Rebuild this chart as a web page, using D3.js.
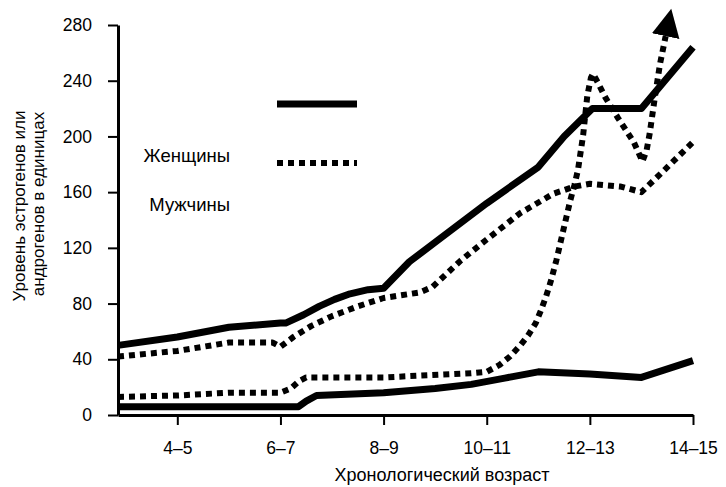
<!DOCTYPE html>
<meta charset="utf-8">
<script src="https://d3js.org/d3.v7.min.js"></script>
<title>Уровень эстрогенов и андрогенов</title>
<style>
  body { margin: 0; background: white; }
  svg text { font-family: "Liberation Sans", Arial, sans-serif; fill: black; }
</style>
<body>
<div id="chart"></div>
<script>
// x values are ages; tick at the middle of each two-year group
var ageTicks = [4.5, 6.5, 8.5, 10.5, 12.5, 14.5];
var ageLabels = ["4–5", "6–7", "8–9", "10–11", "12–13", "14–15"];
var yTicks = [0, 40, 80, 120, 160, 200, 240, 280];

// Женщины, solid
var femaleHighAge = [3.35, 4.5, 5.5, 6.5, 6.6, 6.95, 7.25, 7.55, 7.85, 8.2, 8.5, 9.0, 9.5, 10.5, 11.5, 12.0, 12.55, 13.5, 14.5];
var femaleHighVal = [50, 56, 63, 66, 66, 72, 78, 83, 87, 90, 91, 110, 124, 152, 178, 200, 220, 220, 264];
var femaleLowAge = [3.35, 6.5, 6.85, 7.0, 7.2, 8.5, 9.5, 10.2, 10.85, 11.5, 12.5, 13.5, 14.5];
var femaleLowVal = [6, 6, 6, 10, 14, 16, 19, 22, 26.5, 31, 29.5, 27, 39];

// Мужчины, dotted
var maleHighAge = [3.35, 4.5, 5.5, 6.35, 6.5, 6.75, 7.1, 7.5, 8.0, 8.5, 9.2, 9.45, 10.0, 10.5, 11.15, 11.8, 12.2, 12.5, 13.1, 13.5, 13.95, 14.5];
var maleHighVal = [42, 46, 52, 52, 49, 56, 64, 71, 78, 84, 88, 92, 111, 126, 145, 159, 164, 166, 164, 160, 176, 196];
var maleLowAge = [3.35, 4.5, 5.5, 6.5, 6.7, 6.85, 7.0, 8.5, 10.2, 10.5, 10.75, 10.95, 11.15, 11.3, 11.45, 11.55, 11.65, 11.75, 11.85, 11.95, 12.05, 12.12, 12.2, 12.27, 12.37, 12.45, 12.52, 12.56, 12.65, 12.8, 13.05, 13.35, 13.52, 13.6, 13.66, 13.76, 13.86, 13.97];
var maleLowVal = [13, 14, 16, 16, 19, 24, 27, 27, 30, 31, 36, 42, 50, 57, 66, 75, 85, 97, 111, 127, 143, 154, 165, 176, 201, 229, 242, 245, 239, 228, 213, 196, 182, 190, 202, 228, 252, 272];

var margin = {top: 25, right: 33, bottom: 72, left: 118},
    width = 726 - margin.left - margin.right,
    height = 487 - margin.top - margin.bottom;

var root = d3.select("#chart")
  .append("svg")
    .attr("width", 726)
    .attr("height", 487);

var svg = root.append("g")
    .attr("transform", "translate(" + margin.left + "," + margin.top + ")");

root.append("defs").append("marker")
    .attr("id", "arrow")
    .attr("markerUnits", "userSpaceOnUse")
    .attr("viewBox", "0 0 30 30")
    .attr("markerWidth", 30)
    .attr("markerHeight", 30)
    .attr("refX", 0)
    .attr("refY", 15)
    .attr("orient", "auto")
  .append("path")
    .attr("d", "M0,1 L28,15 L0,29 Z")
    .attr("fill", "black");

var x = d3.scaleLinear()
  .domain([3.35, 14.5])
  .range([0, width]);

var y = d3.scaleLinear()
  .domain([0, 280])
  .range([height, 0]);

svg.append("g")
  .attr("transform", "translate(0," + height + ")")
  .call(d3.axisBottom(x)
    .tickValues(ageTicks)
    .tickFormat(function(d, i) { return ageLabels[i]; })
    .tickSize(10)
    .tickPadding(17)
    .tickSizeOuter(0));

svg.append("g")
  .call(d3.axisLeft(y)
    .tickValues(yTicks)
    .tickSize(10)
    .tickPadding(16)
    .tickSizeOuter(0));

svg.selectAll(".domain").attr("stroke-width", 3);
svg.selectAll(".tick line").attr("stroke-width", 2);
svg.selectAll(".tick text")
  .style("font-size", "17.5px")
  .style("font-family", "'Liberation Sans', Arial, sans-serif");

var line = d3.line()
  .x(function(d) { return x(d[0]); })
  .y(function(d) { return y(d[1]); })
  .curve(d3.curveLinear);

function pairs(a, v) { return a.map(function(d, i) { return [d, v[i]]; }); }

var series = [
  {pts: pairs(femaleLowAge, femaleLowVal), dash: null},
  {pts: pairs(maleLowAge, maleLowVal), dash: "6,5", arrow: true},
  {pts: pairs(maleHighAge, maleHighVal), dash: "6,5"},
  {pts: pairs(femaleHighAge, femaleHighVal), dash: null}
];

series.forEach(function(s) {
  var p = svg.append("path")
    .datum(s.pts)
    .attr("d", line)
    .attr("fill", "none")
    .attr("stroke", "black")
    .attr("stroke-width", s.dash ? 6 : 7)
    .attr("stroke-linejoin", "round")
    .attr("stroke-dasharray", s.dash);
  if (s.arrow) p.attr("marker-end", "url(#arrow)");
});

// legend
root.append("line")
  .attr("x1", 277).attr("x2", 357)
  .attr("y1", 104).attr("y2", 104)
  .attr("stroke", "black")
  .attr("stroke-width", 7);
root.append("line")
  .attr("x1", 277).attr("x2", 357)
  .attr("y1", 163).attr("y2", 163)
  .attr("stroke", "black")
  .attr("stroke-width", 6)
  .attr("stroke-dasharray", "6,5");
root.append("text")
  .attr("x", 230).attr("y", 162)
  .attr("text-anchor", "end")
  .style("font-size", "18.5px")
  .text("Женщины");
root.append("text")
  .attr("x", 230).attr("y", 211)
  .attr("text-anchor", "end")
  .style("font-size", "18.5px")
  .text("Мужчины");

// axis titles
root.append("text")
  .attr("x", 442).attr("y", 481)
  .attr("text-anchor", "middle")
  .style("font-size", "18px")
  .text("Хронологический возраст");

root.append("text")
  .attr("transform", "translate(25,206) rotate(-90)")
  .attr("text-anchor", "middle")
  .style("font-size", "17px")
  .text("Уровень эстрогенов или");
root.append("text")
  .attr("transform", "translate(44,204) rotate(-90)")
  .attr("text-anchor", "middle")
  .style("font-size", "17px")
  .text("андрогенов в единицах");
</script>
</body>
